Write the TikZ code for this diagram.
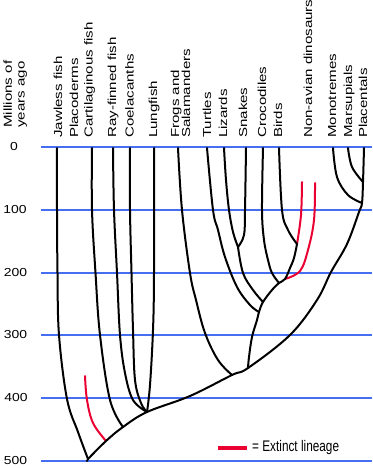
\documentclass[tikz,border=0pt]{standalone}
\usepackage{fontspec}
\setmainfont{Liberation Sans}
\definecolor{gridblue}{RGB}{70,110,240}
\definecolor{extred}{RGB}{235,0,50}
\newcommand\VLab[1]{\scalebox{1.3}[1]{#1}}
\newcommand\HLab[1]{\scalebox{1}[1.3]{#1}}
\newcommand\NLab[1]{\scalebox{1.2}[1]{#1}}
\tikzset{
  lab/.style={rotate=90, anchor=base west, inner sep=0pt, font=\fontsize{11.6}{13}\selectfont},
  num/.style={anchor=center, inner sep=0pt, font=\fontsize{11.6}{13}\selectfont},
  grid/.style={gridblue, line width=1.1pt},
  br/.style={black, line width=2pt, line cap=round, line join=round},
  ext/.style={extred, line width=2pt, line cap=round},
}
\begin{document}
\begin{tikzpicture}[x=1pt,y=-1pt]
\useasboundingbox (0,0) rectangle (372,468);
% grid lines
\foreach \yy/\t/\xx in {147/0/14, 210/100/15, 273/200/15.5, 335/300/15.5, 398/400/16, 461/500/15.5}{
  \coordinate (gl\t) at (41,\yy);
  \coordinate (gr\t) at (372,\yy);
  \draw[grid] (gl\t) -- (gr\t);
  \node[num] (n\t) at (\xx,\yy) {\NLab{\t}};
}
% axis title
\node[lab] (mill1) at (12,128) {\VLab{Millions of}};
\node[lab] (mill2) at (24.5,128) {\VLab{years ago}};
% taxon labels
\node[lab] (tJaw) at (62,138) {\VLab{Jawless fish}};
\node[lab] (tPla) at (78,138) {\VLab{Placoderms}};
\node[lab] (tCar) at (92.5,138) {\VLab{Cartilaginous fish}};
\node[lab] (tRay) at (116,138) {\VLab{Ray-finned fish}};
\node[lab] (tCoe) at (133.5,138) {\VLab{Coelacanths}};
\node[lab] (tLun) at (157,138) {\VLab{Lungfish}};
\node[lab] (tFro) at (179,138) {\VLab{Frogs and}};
\node[lab] (tSal) at (190,138) {\VLab{Salamanders}};
\node[lab] (tTur) at (211,138) {\VLab{Turtles}};
\node[lab] (tLiz) at (227,138) {\VLab{Lizards}};
\node[lab] (tSna) at (247,138) {\VLab{Snakes}};
\node[lab] (tCro) at (266,138) {\VLab{Crocodiles}};
\node[lab] (tBir) at (282,138) {\VLab{Birds}};
\node[lab] (tDin) at (312,138) {\VLab{Non-avian dinosaurs}};
\node[lab] (tMon) at (336,138) {\VLab{Monotremes}};
\node[lab] (tMar) at (352,138) {\VLab{Marsupials}};
\node[lab] (tPlc) at (367,138) {\VLab{Placentals}};
% junctions
\coordinate (root) at (88,459);
\coordinate (jPla) at (106,441);
\coordinate (jCar) at (123,427);
\coordinate (jBon) at (147,412);
\coordinate (jFro) at (232,375);
\coordinate (jAmn) at (248,368);
\coordinate (jTur) at (259,312);
\coordinate (jSqu) at (263,302);
\coordinate (jArc) at (279,283);
\coordinate (jDi2) at (285,279);
\coordinate (jBir) at (297,244);
\coordinate (jLiz) at (238,247);
\coordinate (jMon) at (362,203);
\coordinate (jMar) at (363,182);
% tips
\coordinate (pJaw) at (57,148);
\coordinate (pCar) at (92,148);
\coordinate (pRay) at (113,148);
\coordinate (pCoe) at (130,148);
\coordinate (pLun) at (154,148);
\coordinate (pFro) at (178,148);
\coordinate (pTur) at (207,148);
\coordinate (pLiz) at (224,148);
\coordinate (pSna) at (246,148);
\coordinate (pCro) at (263,148);
\coordinate (pBir) at (279,148);
\coordinate (pMon) at (333,148);
\coordinate (pMar) at (348,148);
\coordinate (pPlc) at (364,148);
\coordinate (ePla) at (85,376);
\coordinate (eDi1) at (302,182);
\coordinate (eDi2) at (315,183);
% extinct lineages
\draw[ext] plot[smooth,tension=0.6] coordinates {(ePla) (87,400) (93,423) (jPla)};
\draw[ext] plot[smooth,tension=0.6] coordinates {(eDi1) (301,215) (jBir)};
\draw[ext] plot[smooth,tension=0.6] coordinates {(eDi2) (314,220) (308,250) (300,271) (jDi2)};
% trunk
\draw[br] plot[smooth,tension=0.6] coordinates {(root) (jPla) (jCar) (jBon) (190,396) (jFro) (jAmn) (290,335) (317,300) (331,272) (347,244) (359,212) (jMon) (jMar) (pPlc)};
\draw[br] (root) -- (87,461);
% fish
\draw[br] plot[smooth,tension=0.6] coordinates {(pJaw) (57,210) (57.5,273) (59,335) (67,399) (78,432) (root)};
\draw[br] plot[smooth,tension=0.6] coordinates {(pCar) (92,210) (95.5,273) (100,335) (110,400) (jCar)};
\draw[br] plot[smooth,tension=0.6] coordinates {(pRay) (114,210) (117,273) (120,335) (125,373) (133,400) (jBon)};
\draw[br] plot[smooth,tension=0.6] coordinates {(pCoe) (130,210) (131.5,273) (133,330) (135,380) (141,403) (jBon)};
\draw[br] plot[smooth,tension=0.6] coordinates {(pLun) (154,273) (153,330) (150,385) (jBon)};
% tetrapods
\draw[br] plot[smooth,tension=0.6] coordinates {(pFro) (182,210) (190,273) (196,300) (205,333) (218,360) (jFro)};
\draw[br] plot[smooth,tension=0.6] coordinates {(pTur) (213,210) (218,230) (225,257) (237,287) (250,305) (jTur)};
\draw[br] plot[smooth,tension=0.6] coordinates {(pLiz) (226,180) (229,210) (233,232) (jLiz)};
\draw[br] plot[smooth,tension=0.6] coordinates {(pSna) (245,210) (244,235) (jLiz)};
\draw[br] plot[smooth,tension=0.6] coordinates {(jLiz) (243,273) (253,290) (jSqu)};
\draw[br] plot[smooth,tension=0.6] coordinates {(pCro) (262,210) (264,240) (268,260) (272,273) (jArc)};
\draw[br] plot[smooth,tension=0.6] coordinates {(pBir) (282,210) (288,230) (jBir)};
\draw[br] plot[smooth,tension=0.6] coordinates {(jBir) (294,258) (290,268) (jDi2) (jArc) (272,290) (jSqu) (jTur) (257,320) (252,337) (249,357) (jAmn)};
% mammals
\draw[br] plot[smooth,tension=0.6] coordinates {(pMon) (337,177) (348,195) (jMon)};
\draw[br] plot[smooth,tension=0.6] coordinates {(pMar) (352,167) (jMar)};
% legend
\coordinate (lgA) at (218,448);
\coordinate (lgB) at (247,448);
\draw[extred, line width=3.5pt] (lgA) -- (lgB);
\node[anchor=west, inner sep=0pt, font=\fontsize{11.8}{13}\selectfont] (lgT) at (252,448) {\HLab{= Extinct lineage}};
\end{tikzpicture}
\end{document}
